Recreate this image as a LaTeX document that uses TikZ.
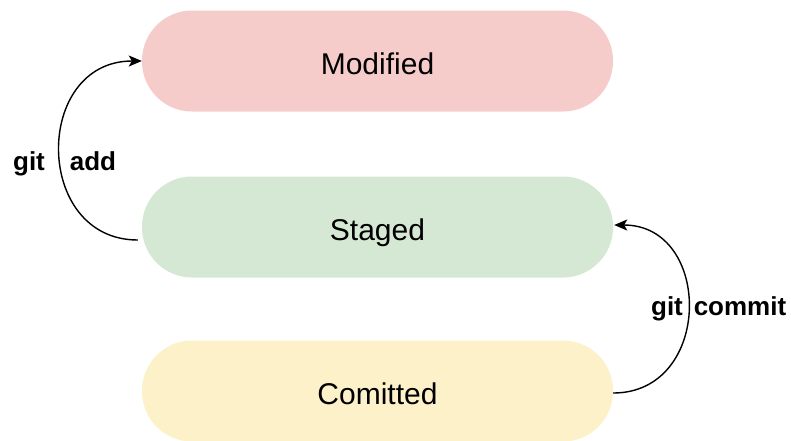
\documentclass[tikz,border=0pt]{standalone}
\usepackage{fontspec}
\setmainfont{Liberation Sans}
\usetikzlibrary{arrows.meta}
\definecolor{redfill}{HTML}{F6CCCB}
\definecolor{greenfill}{HTML}{D5E8D4}
\definecolor{yellowfill}{HTML}{FDF1C9}
\tikzset{
  state/.style={rectangle, rounded corners=50pt, minimum width=471pt, minimum height=101pt,
    inner sep=0pt, text height=34pt, text depth=8pt, font=\fontsize{30pt}{36pt}\selectfont},
  flow/.style={line width=1.4pt, -{Stealth[length=13pt,width=11pt,inset=3pt]}},
  cmd/.style={font=\bfseries\fontsize{26pt}{31pt}\selectfont, inner sep=0pt, anchor=base}
}
\begin{document}
\begin{tikzpicture}[x=1pt,y=-1pt]
  \useasboundingbox (0,0) rectangle (791,440);
  \begin{scope}
  \clip (0,0) rectangle (791,440);
  \node[state, fill=redfill]    (mod) at (377.5,61)  {Modified};
  \node[state, fill=greenfill]  (stg) at (377.5,227) {Staged};
  \node[state, fill=yellowfill] (com) at (377.5,391) {Comitted};
  \end{scope}

  % git add: Staged -> Modified, bowing out to the left
  \draw[flow] ([xshift=-4pt,yshift=-13pt]stg.west)
     .. controls (33,240) and (33,61) .. (mod.west);
  \node[cmd] (gitA) at (29,170) {git};
  \node[cmd] (addA) at (93,170) {add};

  % git commit: Comitted -> Staged, bowing out to the right
  \draw[flow] ([yshift=-2pt]com.east)
     .. controls (713,393) and (713,225) .. ([xshift=1pt,yshift=2pt]stg.east);
  \node[cmd] (gitC) at (667,315) {git};
  \node[cmd] (comC) at (740,315) {commit};
\end{tikzpicture}
\end{document}
